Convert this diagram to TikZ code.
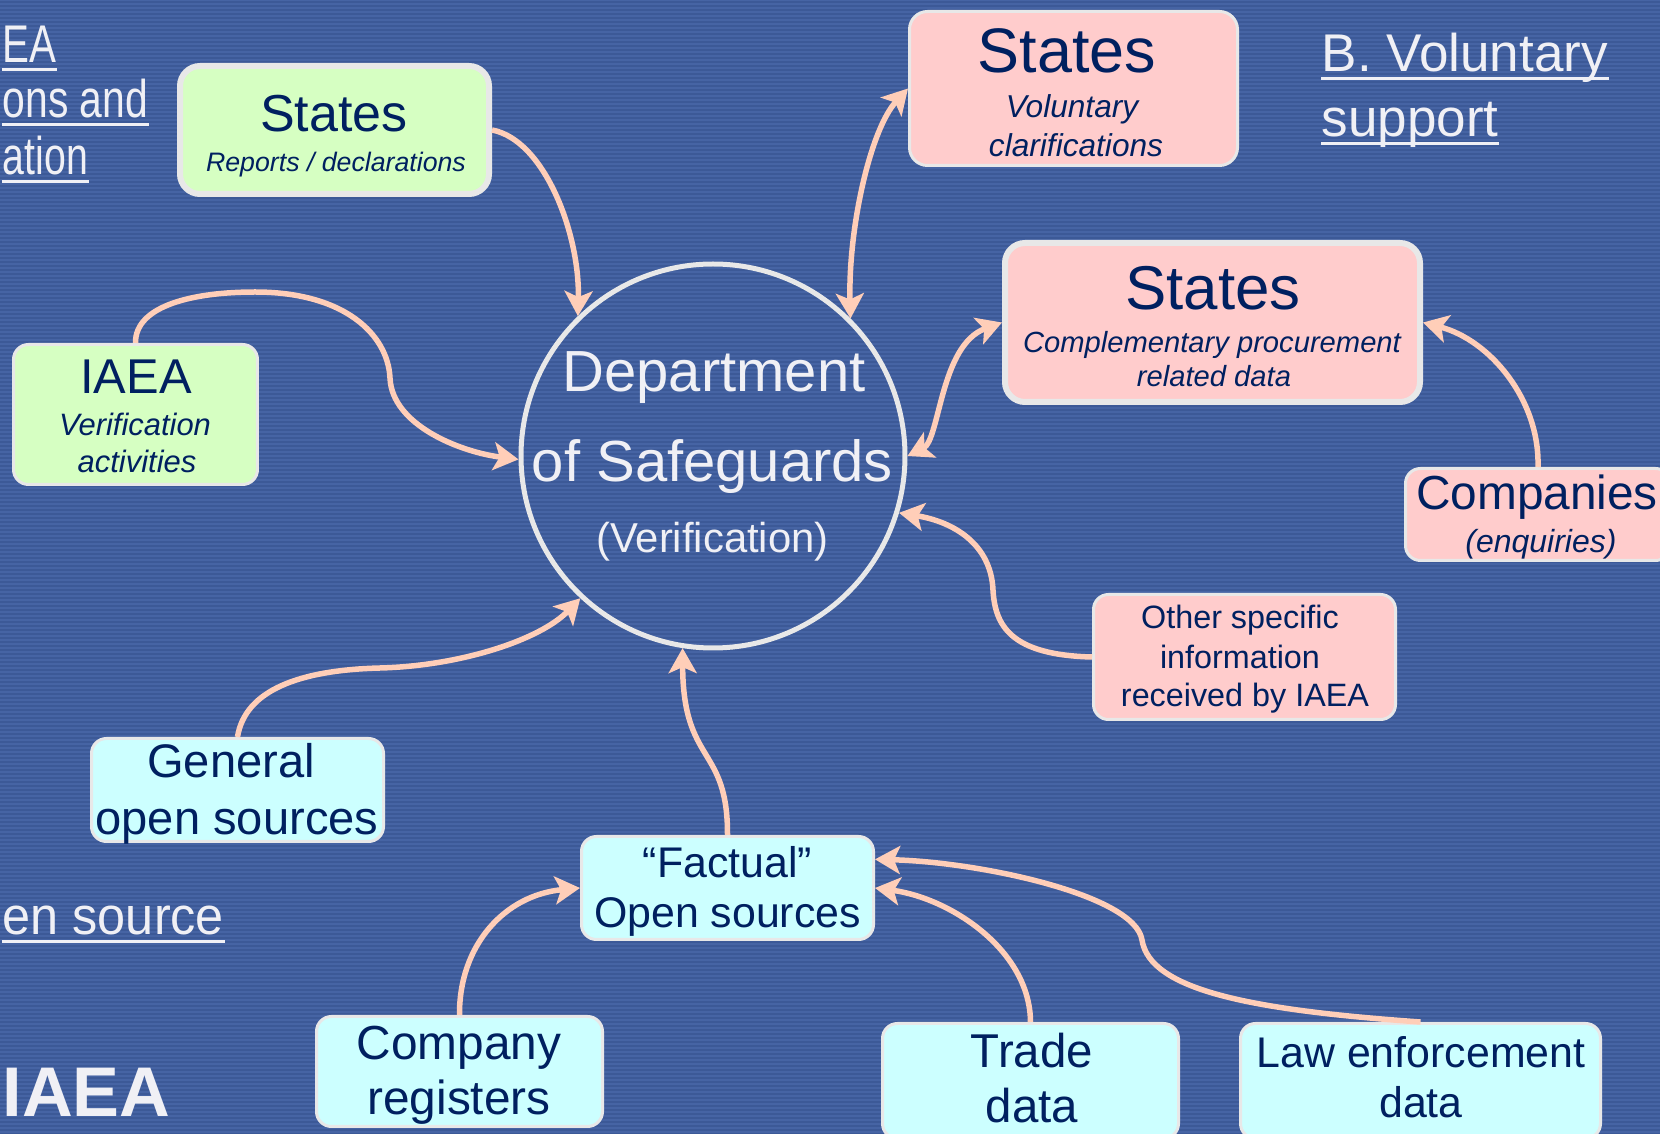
\documentclass[tikz,border=0pt]{standalone}
\usepackage{fontspec}
\setmainfont{Liberation Sans}
\usetikzlibrary{arrows.meta}

\definecolor{bgblue}{RGB}{70,100,164}
\definecolor{bgline}{RGB}{60,89,151}
\definecolor{navy}{RGB}{0,32,96}
\definecolor{greenf}{RGB}{214,255,194}
\definecolor{pinkf}{RGB}{255,204,204}
\definecolor{cyanf}{RGB}{204,255,255}
\definecolor{rimc}{RGB}{232,232,232}
\definecolor{arrowc}{RGB}{255,206,184}
\definecolor{headc}{RGB}{240,240,245}

\tikzset{
  flowtip/.tip={Stealth[length=2.5mm,width=2.8mm,inset=0.6mm]},
  box/.style={draw=rimc, line width=0.3mm, rounded corners=1.5mm, inner sep=0pt},
  heavybox/.style={box, line width=0.6mm, rounded corners=2mm},
  txt/.style={anchor=base, inner sep=0pt, text=navy},
  fs/.style={font=\fontsize{#1}{#1}\selectfont},
  fsi/.style={font=\fontsize{#1}{#1}\selectfont\itshape},
  ctxt/.style={anchor=base, inner sep=0pt, text=headc},
  head/.style={anchor=base west, inner sep=0pt, text=headc, font=\fontsize{15.1}{15.1}\selectfont},
  uline/.style={draw=headc, line width=0.3mm},
  flow/.style={draw=arrowc, line width=0.55mm, -flowtip},
  twoway/.style={flow, flowtip-flowtip}
}

\begin{document}
\begin{tikzpicture}[x=0.1mm, y=-0.1mm]
    % Rahmen
    \useasboundingbox (0,0) rectangle (1660,1134);
    \clip (0,0) rectangle (1660,1134);
    % Hintergrund
    \fill[bgblue] (0,0) rectangle (1660,1134);
    \foreach \y in {2,6,...,1134}
        \draw[bgline, line width=0.15mm] (0,\y) -- (1660,\y);
    % Ueberschriften
    \node[head] (hA) at (2,63) {\scalebox{0.76}[1]{EA}};
    \node[head] (hB) at (2,118) {\scalebox{0.77}[1]{ons and}};
    \node[head] (hC) at (2,175) {\scalebox{0.74}[1]{ation}};
    \node[head] (hD) at (2,935) {\scalebox{0.95}[1]{en source}};
    \node[head] (hE) at (1321,72) {B. Voluntary};
    \node[head] (hF) at (1321,137) {support};
    \foreach \h in {hA,hB,hC,hD,hE,hF}
        \draw[uline] ([yshift=-0.65mm]\h.base west) -- ([yshift=-0.65mm]\h.base east);
    \node[anchor=base west, inner sep=0pt, text=headc, font=\fontsize{20}{20}\selectfont\bfseries] (logo) at (2,1117) {IAEA};
    % Kreis
    \node[circle, draw=rimc, line width=0.5mm, minimum size=38.4mm, inner sep=0pt] (dept) at (713,456) {};
    \node[ctxt, fs=16.5] (dept-a) at (714,392) {Department};
    \node[ctxt, fs=16.5] (dept-b) at (712.5,482) {of Safeguards};
    \node[ctxt, fs=11.9] (dept-c) at (712.5,553) {(Verification)};
    % Kaesten gruen
    \node[heavybox, fill=greenf, minimum width=30.9mm, minimum height=12.8mm] (reports) at (334.5,130) {};
    \node[txt, fs=14.8] (reports-a) at (334,132) {States};
    \node[txt, fsi=7.6] (reports-b) at (336,172) {Reports / declarations};
    \node[box, fill=greenf, minimum width=24.4mm, minimum height=14mm] (iaea) at (135.5,414.5) {};
    \node[txt, fs=13.9] (iaea-a) at (136,394) {IAEA};
    \node[txt, fsi=8.8] (iaea-b) at (135,436) {Verification};
    \node[txt, fsi=8.8] (iaea-c) at (137,473) {activities};
    % Kaesten rosa
    \node[box, fill=pinkf, minimum width=32.8mm, minimum height=15.4mm, rounded corners=1.8mm] (volun) at (1073.5,88.5) {};
    \node[txt, fs=17.9] (volun-a) at (1067,73) {States};
    \node[txt, fsi=9] (volun-b) at (1072,118) {Voluntary};
    \node[txt, fsi=9] (volun-c) at (1076,157) {clarifications};
    \node[heavybox, fill=pinkf, minimum width=41.5mm, minimum height=15.9mm] (compl) at (1212.5,322.5) {};
    \node[txt, fs=17.6] (compl-a) at (1213,310) {States};
    \node[txt, fsi=8.3] (compl-b) at (1212,353) {Complementary procurement};
    \node[txt, fsi=8.3] (compl-c) at (1214,387) {related data};
    \node[box, fill=pinkf, minimum width=26.5mm, minimum height=9.2mm] (comp) at (1538,514.5) {};
    \node[txt, fs=13.6] (comp-a) at (1537,510) {Companies};
    \node[txt, fsi=9.1] (comp-b) at (1541,553) {(enquiries)};
    \node[box, fill=pinkf, minimum width=30.2mm, minimum height=12.5mm] (other) at (1244.5,657) {};
    \node[txt, fs=9.2] (other-a) at (1240,629) {Other specific};
    \node[txt, fs=9.2] (other-b) at (1240,669) {information};
    \node[txt, fs=9.2] (other-c) at (1245,707) {received by IAEA};
    % Kaesten tuerkis
    \node[box, fill=cyanf, minimum width=29.2mm, minimum height=10.3mm] (general) at (237.5,790) {};
    \node[txt, fs=13.4] (general-a) at (231,778) {General};
    \node[txt, fs=13.4] (general-b) at (237,835) {open sources};
    \node[box, fill=cyanf, minimum width=29.2mm, minimum height=10.3mm] (factual) at (727.5,888) {};
    \node[txt, fs=12.2] (factual-a) at (727.5,878) {“Factual”};
    \node[txt, fs=12.2] (factual-b) at (727.5,928) {Open sources};
    \node[box, fill=cyanf, minimum width=28.6mm, minimum height=11mm] (creg) at (459.5,1071.5) {};
    \node[txt, fs=13.6] (creg-a) at (459,1060) {Company};
    \node[txt, fs=13.6] (creg-b) at (459,1115) {registers};
    \node[box, fill=cyanf, minimum width=29.6mm, minimum height=11.5mm] (trade) at (1030.5,1081) {};
    \node[txt, fs=13.5] (trade-a) at (1032,1068) {Trade};
    \node[txt, fs=13.5] (trade-b) at (1032,1123) {data};
    \node[box, fill=cyanf, minimum width=36mm, minimum height=11.5mm] (law) at (1420.5,1081) {};
    \node[txt, fs=12.2] (law-a) at (1421,1068) {Law enforcement};
    \node[txt, fs=12.2] (law-b) at (1421,1118) {data};
    % Pfeile
    \draw[flow] (reports.east) .. controls (545,140) and (580,235) .. (dept.134);
    \draw[flow] (iaea.north) .. controls (135,305) and (195,292) .. (255,292)
        .. controls (345,292) and (388,335) .. (390,378)
        .. controls (392,425) and (460,452) .. (dept.181);
    \draw[twoway] (dept.45) .. controls (848,230) and (870,130) .. (volun.west);
    \draw[twoway] (dept.east) .. controls (940,440) and (940,345) .. (compl.west);
    \draw[flow] (comp.north) .. controls (1540,400) and (1490,340) .. (compl.east);
    \draw[flow] (other.west) .. controls (1010,655) and (995,625) .. (993,590)
        .. controls (991,545) and (955,522) .. (dept.-17);
    \draw[flow] (general.north) .. controls (245,690) and (300,670) .. (380,668)
        .. controls (460,666) and (540,640) .. (dept.227);
    \draw[flow] (factual.north) .. controls (728,745) and (683,765) .. (dept.261);
    \draw[flow] (creg.north) .. controls (459,945) and (505,895) .. (factual.west);
    \draw[flow] (trade.north) .. controls (1030,950) and (950,898) .. (factual.east);
    \draw[flow] (law.north) .. controls (1250,1010) and (1150,990) .. (1142,940)
        .. controls (1135,895) and (980,862) .. (factual.11);
\end{tikzpicture}
\end{document}
